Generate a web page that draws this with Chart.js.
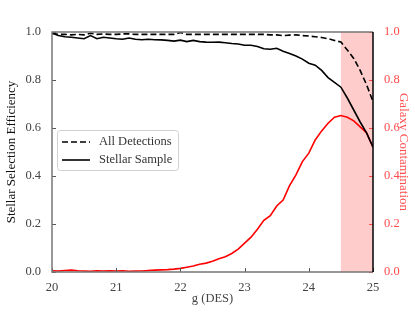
<!DOCTYPE html>
<html>
<head>
<meta charset="utf-8">
<script src="https://cdn.jsdelivr.net/npm/chart.js@4.4.0/dist/chart.umd.min.js"></script>
<style>
  html, body { margin: 0; padding: 0; background: #fff; }
  #wrap { width: 415px; height: 312px; position: relative; }
</style>
</head>
<body>
<div id="wrap"><canvas id="myChart" width="415" height="312"></canvas></div>
<script>
// magnitudes g (DES), passo de 0.1
const mags = [20.0, 20.1, 20.2, 20.3, 20.4, 20.5, 20.6, 20.7, 20.8, 20.9,
  21.0, 21.1, 21.2, 21.3, 21.4, 21.5, 21.6, 21.7, 21.8, 21.9,
  22.0, 22.1, 22.2, 22.3, 22.4, 22.5, 22.6, 22.7, 22.8, 22.9,
  23.0, 23.1, 23.2, 23.3, 23.4, 23.5, 23.6, 23.7, 23.8, 23.9,
  24.0, 24.1, 24.2, 24.3, 24.4, 24.5, 24.6, 24.7, 24.8, 24.9, 25.0]

const allDetections = [0.995, 0.99, 0.99, 0.988, 0.99, 0.988, 0.995, 0.99, 0.992, 0.99,
  0.99, 0.992, 0.992, 0.99, 0.99, 0.99, 0.99, 0.99, 0.99, 0.99,
  0.998, 0.99, 0.99, 0.99, 0.99, 0.99, 0.99, 0.99, 0.99, 0.99,
  0.99, 0.99, 0.99, 0.99, 0.988, 0.988, 0.985, 0.987, 0.988, 0.985,
  0.983, 0.98, 0.977, 0.972, 0.965, 0.958, 0.925, 0.89, 0.84, 0.78, 0.71]

const stellarSample = [0.995, 0.985, 0.98, 0.978, 0.975, 0.972, 0.985, 0.972, 0.978, 0.975,
  0.972, 0.97, 0.975, 0.97, 0.968, 0.97, 0.968, 0.967, 0.965, 0.962,
  0.966, 0.96, 0.965, 0.96, 0.958, 0.957, 0.958, 0.955, 0.952, 0.95,
  0.945, 0.945, 0.94, 0.93, 0.928, 0.932, 0.92, 0.91, 0.9, 0.887,
  0.87, 0.862, 0.84, 0.81, 0.79, 0.77, 0.725, 0.675, 0.625, 0.58, 0.52]

const galaxyContamination = [0.005, 0.004, 0.006, 0.008, 0.005, 0.004, 0.003, 0.005, 0.004, 0.005,
  0.004, 0.005, 0.003, 0.004, 0.004, 0.006, 0.008, 0.009, 0.010, 0.012,
  0.015, 0.02, 0.025, 0.032, 0.037, 0.045, 0.055, 0.064, 0.077, 0.095,
  0.12, 0.145, 0.178, 0.215, 0.235, 0.275, 0.30, 0.36, 0.405, 0.46,
  0.495, 0.55, 0.588, 0.62, 0.645, 0.652, 0.645, 0.63, 0.605, 0.58, 0.52]

const shadedRange = [24.5, 25.0]
const xTicks = [20, 21, 22, 23, 24, 25]
const yTicks = [0, 0.2, 0.4, 0.6, 0.8, 1.0]

const SERIF = "'Liberation Serif', 'DejaVu Serif', serif"
const RED_TXT = '#ff4d4d'

function toXY(ys) {
  return mags.map((m, i) => ({ x: m, y: ys[i] }))
}

// faixa sombreada atrás das linhas
const shadePlugin = {
  id: 'shade',
  beforeDatasetsDraw(chart) {
    const { ctx, chartArea, scales } = chart
    const x0 = scales.x.getPixelForValue(shadedRange[0])
    const x1 = scales.x.getPixelForValue(shadedRange[1])
    ctx.save()
    ctx.fillStyle = 'rgba(255, 0, 0, 0.2)'
    ctx.fillRect(x0, chartArea.top, x1 - x0, chartArea.bottom - chartArea.top)
    ctx.restore()
  }
}

// moldura, ticks para dentro e legenda dentro do gráfico
const framePlugin = {
  id: 'frame',
  afterDatasetsDraw(chart) {
    const { ctx, chartArea: a, scales } = chart
    ctx.save()
    ctx.lineWidth = 1
    // ticks
    ctx.strokeStyle = '#555'
    xTicks.forEach(t => {
      const px = Math.round(scales.x.getPixelForValue(t)) + 0.5
      ctx.beginPath(); ctx.moveTo(px, a.bottom); ctx.lineTo(px, a.bottom - 4); ctx.stroke()
    })
    yTicks.forEach(t => {
      const py = Math.round(scales.y.getPixelForValue(t)) + 0.5
      ctx.strokeStyle = '#555'
      ctx.beginPath(); ctx.moveTo(a.left, py); ctx.lineTo(a.left + 4, py); ctx.stroke()
      ctx.strokeStyle = RED_TXT
      ctx.beginPath(); ctx.moveTo(a.right, py); ctx.lineTo(a.right - 4, py); ctx.stroke()
    })
    // spines
    ctx.lineWidth = 1.5
    ctx.strokeStyle = '#777'
    ctx.beginPath()
    ctx.moveTo(a.right, a.top); ctx.lineTo(a.left, a.top)
    ctx.lineTo(a.left, a.bottom); ctx.lineTo(a.right, a.bottom)
    ctx.stroke()
    ctx.strokeStyle = '#000'
    ctx.beginPath(); ctx.moveTo(a.right, a.top); ctx.lineTo(a.right, a.bottom); ctx.stroke()

    // legenda
    const lx = a.left + 5, ly = 130, lw = 121, lh = 40
    ctx.lineWidth = 1
    ctx.strokeStyle = '#d0d0d0'
    ctx.fillStyle = 'rgba(255,255,255,0.8)'
    ctx.beginPath()
    ctx.roundRect(lx + 0.5, ly + 0.5, lw, lh, 3)
    ctx.fill(); ctx.stroke()
    const items = [
      { label: 'All Detections', dash: [6, 3], y: ly + 12 },
      { label: 'Stellar Sample', dash: [], y: ly + 30 }
    ]
    ctx.font = '12.5px ' + SERIF
    ctx.textBaseline = 'middle'
    items.forEach(it => {
      ctx.strokeStyle = '#000'
      ctx.lineWidth = 1.6
      ctx.setLineDash(it.dash)
      ctx.beginPath(); ctx.moveTo(lx + 5, it.y); ctx.lineTo(lx + 33, it.y); ctx.stroke()
      ctx.setLineDash([])
      ctx.fillStyle = '#333'
      ctx.fillText(it.label, lx + 42, it.y)
    })
    ctx.restore()
  }
}

const ctx = document.getElementById('myChart').getContext('2d')
new Chart(ctx, {
  type: 'line',
  data: {
    datasets: [
      {
        label: 'All Detections',
        data: toXY(allDetections),
        borderColor: '#000',
        borderWidth: 1.6,
        borderDash: [6, 3],
        pointRadius: 0,
        tension: 0,
        yAxisID: 'y'
      },
      {
        label: 'Stellar Sample',
        data: toXY(stellarSample),
        borderColor: '#000',
        borderWidth: 1.6,
        pointRadius: 0,
        tension: 0,
        yAxisID: 'y'
      },
      {
        label: 'Galaxy Contamination',
        data: toXY(galaxyContamination),
        borderColor: '#ff0000',
        borderWidth: 1.6,
        pointRadius: 0,
        tension: 0,
        yAxisID: 'y2'
      }
    ]
  },
  options: {
    responsive: false,
    animation: false,
    layout: { padding: { top: 32, left: 0, right: 0, bottom: 0 } },
    plugins: {
      legend: { display: false },
      tooltip: { enabled: false }
    },
    scales: {
      x: {
        type: 'linear',
        min: 20,
        max: 25,
        afterFit: s => { s.height = 40 },
        afterBuildTicks: s => { s.ticks = xTicks.map(v => ({ value: v })) },
        grid: { display: false },
        border: { display: false },
        ticks: { color: '#444', font: { family: SERIF, size: 12.5 }, padding: 0 },
        title: { display: true, text: 'g (DES)', color: '#444', font: { family: SERIF, size: 12.5 }, padding: { top: 0, bottom: 6 } }
      },
      y: {
        position: 'left',
        min: 0,
        max: 1,
        afterFit: s => { s.width = 52 },
        afterBuildTicks: s => { s.ticks = yTicks.map(v => ({ value: v })) },
        grid: { display: false },
        border: { display: false },
        ticks: { color: '#444', font: { family: SERIF, size: 12.5 }, callback: v => v.toFixed(1), padding: 3 },
        title: { display: true, text: 'Stellar Selection Efficiency', color: '#111', font: { family: SERIF, size: 13 } }
      },
      y2: {
        position: 'right',
        min: 0,
        max: 1,
        afterFit: s => { s.width = 42 },
        afterBuildTicks: s => { s.ticks = yTicks.map(v => ({ value: v })) },
        grid: { display: false },
        border: { display: false },
        ticks: { color: RED_TXT, font: { family: SERIF, size: 12.5 }, callback: v => v.toFixed(1), padding: 3 },
        title: { display: true, text: 'Galaxy Contamination', color: RED_TXT, font: { family: SERIF, size: 13 } }
      }
    }
  },
  plugins: [shadePlugin, framePlugin]
})
</script>
</body>
</html>
